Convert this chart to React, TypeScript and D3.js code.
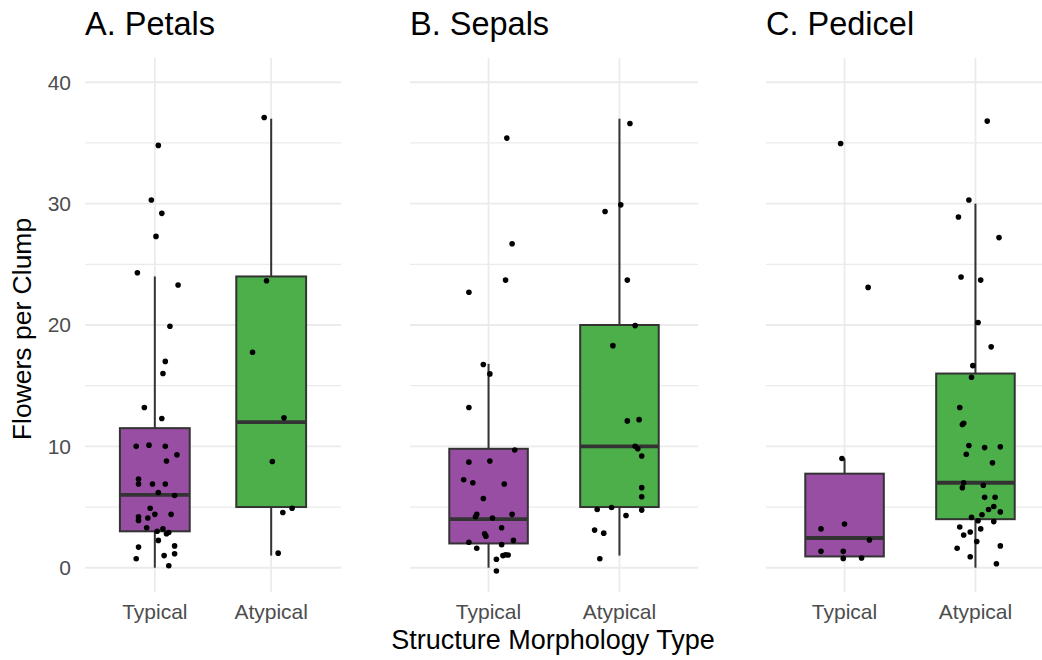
import React from "react";
import * as d3 from "d3";

const width = 1042;
const height = 660;
const panelTop = 58;
const panelBottom = 592;

const categories = ["Typical", "Atypical"];
const panelTitles = ["A. Petals", "B. Sepals", "C. Pedicel"];
const yTicks = [0, 10, 20, 30, 40];
const yMinor = [5, 15, 25, 35];

// box stats per panel: [whiskerLow, q1, median, q3, whiskerHigh], Typical then Atypical
const petalsBoxes = [
  [0, 3, 6, 11.5, 24],
  [1, 5, 12, 24, 37],
];
const sepalsBoxes = [
  [0, 2, 4, 9.8, 16.8],
  [1, 5, 10, 20, 37],
];
const pedicelBoxes = [
  [0.93, 0.93, 2.45, 7.75, 9],
  [0, 4, 7, 16, 30],
];

// points: [jitter (fraction of step), value]
const petalsTypical = [
  [0.03, 34.8], [-0.03, 30.3], [0.06, 29.2], [0.01, 27.3], [-0.15, 24.3],
  [0.2, 23.3], [0.13, 19.9], [0.09, 17.0], [0.07, 16.0], [-0.09, 13.2],
  [0.06, 12.3], [-0.16, 10.0], [-0.05, 10.1], [0.09, 10.0], [0.19, 9.3],
  [0.1, 8.8], [-0.14, 7.3], [-0.14, 6.9], [-0.02, 6.9], [0.09, 6.9],
  [0.03, 6.2], [0.17, 5.95], [-0.04, 4.9], [-0.14, 4.2], [0.0, 4.4],
  [0.14, 4.4], [-0.14, 3.9], [-0.06, 4.1], [-0.07, 3.3], [0.02, 3.0],
  [0.07, 3.2], [0.1, 2.8], [0.12, 2.9], [0.03, 2.25], [-0.14, 1.7],
  [0.17, 1.8], [-0.16, 0.74], [0.08, 1.0], [0.17, 1.15], [0.12, 0.16],
];
const petalsAtypical = [
  [-0.06, 37.1], [-0.04, 23.65], [-0.16, 17.75], [0.11, 12.35],
  [0.01, 8.75], [0.1, 4.55], [0.18, 4.9], [0.06, 1.2],
];
const sepalsTypical = [
  [0.14, 35.4], [0.18, 26.7], [0.13, 23.7], [-0.15, 22.7], [-0.04, 16.75],
  [0.01, 15.97], [-0.15, 13.2], [0.2, 9.7], [-0.15, 8.7], [0.01, 8.8],
  [-0.19, 7.25], [-0.12, 7.0], [0.12, 6.9], [-0.04, 5.7], [-0.09, 4.4],
  [-0.1, 4.2], [0.03, 4.1], [0.18, 4.4], [0.1, 3.3], [-0.03, 2.8],
  [-0.02, 2.6], [-0.15, 2.1], [0.1, 1.9], [0.19, 2.25], [-0.09, 1.6],
  [0.06, 0.7], [0.11, 1.0], [0.15, 1.05], [0.13, 1.07], [0.06, -0.27],
];
const sepalsAtypical = [
  [0.08, 36.6], [0.01, 29.9], [-0.11, 29.35], [0.06, 23.7], [0.12, 19.95],
  [-0.05, 18.3], [0.06, 12.1], [0.15, 12.2], [0.12, 10.0], [0.14, 9.8],
  [0.17, 9.2], [0.17, 6.6], [0.17, 5.85], [0.17, 4.75], [-0.17, 4.8],
  [-0.06, 4.96], [0.05, 4.3], [-0.19, 3.1], [-0.12, 2.85], [-0.15, 0.74],
];
const pedicelTypical = [
  [-0.03, 34.95], [0.18, 23.1], [-0.02, 9.0], [-0.18, 3.2], [0.0, 3.6],
  [0.19, 2.28], [-0.18, 1.35], [-0.01, 1.35], [-0.01, 0.77], [0.13, 0.8],
];
const pedicelAtypical = [
  [0.09, 36.8], [-0.05, 30.3], [-0.13, 28.9], [0.18, 27.2], [-0.11, 23.95],
  [0.04, 23.7], [0.02, 20.2], [0.12, 18.2], [-0.02, 16.65], [-0.03, 15.7],
  [-0.12, 13.2], [-0.1, 11.8], [-0.09, 11.9], [-0.05, 10.07], [0.07, 9.9],
  [0.19, 9.96], [-0.07, 9.35], [0.13, 8.64], [-0.09, 7.0], [-0.1, 6.6],
  [0.06, 6.8], [0.07, 5.8], [0.15, 5.8], [0.14, 5.05], [0.1, 4.8],
  [0.19, 4.6], [0.05, 4.36], [-0.03, 4.15], [0.02, 3.87], [0.14, 3.8],
  [-0.12, 3.35], [-0.04, 2.94], [-0.09, 2.7], [0.04, 3.2], [0.01, 2.16],
  [-0.14, 1.6], [0.19, 1.8], [-0.04, 0.9], [0.16, 0.33],
];

const panelRanges = [
  [85, 341],
  [410, 698],
  [766, 1054],
];
const fills = ["#984EA3", "#4DAF4A"];
const font = "'Liberation Sans', Arial, sans-serif";

const panels = [
  { boxes: petalsBoxes, points: [petalsTypical, petalsAtypical] },
  { boxes: sepalsBoxes, points: [sepalsTypical, sepalsAtypical] },
  { boxes: pedicelBoxes, points: [pedicelTypical, pedicelAtypical] },
];

const yScale = d3.scaleLinear().domain([-2, 42]).range([panelBottom, panelTop]);

function Panel({ index }) {
  const [x0, x1] = panelRanges[index];
  const xScale = d3.scalePoint().domain(categories).range([x0, x1]).padding(0.6);
  const step = xScale.step();
  const boxW = step * 0.6;
  const { boxes, points } = panels[index];

  return (
    <g>
      {yMinor.map((t) => (
        <line key={"m" + t} x1={x0} x2={x1} y1={yScale(t)} y2={yScale(t)} stroke="#EBEBEB" strokeWidth={1.2} />
      ))}
      {yTicks.map((t) => (
        <line key={"t" + t} x1={x0} x2={x1} y1={yScale(t)} y2={yScale(t)} stroke="#EBEBEB" strokeWidth={1.8} />
      ))}
      {categories.map((c) => (
        <line key={"v" + c} x1={xScale(c)} x2={xScale(c)} y1={panelTop} y2={panelBottom} stroke="#EBEBEB" strokeWidth={1.8} />
      ))}
      <text x={x0} y={35} fontSize={32.5} fontFamily={font} fill="#000">
        {panelTitles[index]}
      </text>
      {index === 0 &&
        yTicks.map((t) => (
          <text key={"l" + t} x={71} y={yScale(t)} dy="0.35em" textAnchor="end" fontSize={21} fontFamily={font} fill="#4D4D4D">
            {t}
          </text>
        ))}
      {categories.map((c, i) => {
        const cx = xScale(c);
        const [lo, q1, med, q3, hi] = boxes[i];
        return (
          <g key={c}>
            <line x1={cx} x2={cx} y1={yScale(hi)} y2={yScale(q3)} stroke="#333" strokeWidth={2} />
            <line x1={cx} x2={cx} y1={yScale(q1)} y2={yScale(lo)} stroke="#333" strokeWidth={2} />
            <rect x={cx - boxW / 2} y={yScale(q3)} width={boxW} height={yScale(q1) - yScale(q3)} fill={fills[i]} stroke="#333" strokeWidth={2} />
            <line x1={cx - boxW / 2} x2={cx + boxW / 2} y1={yScale(med)} y2={yScale(med)} stroke="#333" strokeWidth={3.8} />
            <text x={cx} y={619} textAnchor="middle" fontSize={21} fontFamily={font} fill="#4D4D4D">
              {c}
            </text>
          </g>
        );
      })}
      {categories.map((c, i) =>
        points[i].map(([j, v], k) => (
          <circle key={c + k} cx={xScale(c) + j * step} cy={yScale(v)} r={2.8} fill="#000" />
        ))
      )}
    </g>
  );
}

export default function App() {
  return (
    <svg width={width} height={height} style={{ position: "absolute", left: 0, top: 0, background: "#fff" }}>
      <rect width={width} height={height} fill="#fff" />
      {panelTitles.map((t, i) => (
        <Panel key={t} index={i} />
      ))}
      <text
        transform={`translate(31, ${(panelTop + panelBottom) / 2 + 4}) rotate(-90)`}
        textAnchor="middle"
        fontSize={26.5}
        fontFamily={font}
        fill="#000"
      >
        Flowers per Clump
      </text>
      <text x={553} y={649} textAnchor="middle" fontSize={27} fontFamily={font} fill="#000">
        Structure Morphology Type
      </text>
    </svg>
  );
}
